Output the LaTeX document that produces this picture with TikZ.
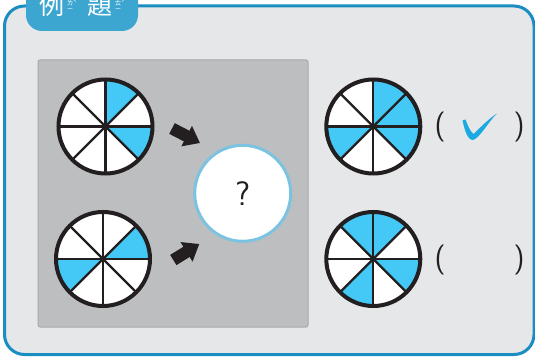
\documentclass[tikz,border=0pt]{standalone}
\usepackage{fontspec}
\newfontfamily\cjk{Noto Sans CJK TC}
\usetikzlibrary{arrows.meta,calc,positioning}
\definecolor{frameblue}{HTML}{1A8DC2}
\definecolor{tabblue}{HTML}{3CA6D1}
\definecolor{framebg}{HTML}{E6E7E8}
\definecolor{panelgray}{HTML}{BCBEC0}
\definecolor{panelline}{HTML}{A7A9AB}
\definecolor{sky}{HTML}{44C8F5}
\definecolor{ringblue}{HTML}{7CC3E2}
\definecolor{tickblue}{HTML}{1BA9E1}
\definecolor{ink}{HTML}{231F20}

\newcommand{\fracwheel}[3]{%
  \node[wheel] (#1) at (#2) {};
  \foreach \k in {#3} \fill[sky] (#1.center) -- ++(\k*45:47) arc[start angle=\k*45,end angle=\k*45+45,radius=47] -- cycle;
  \foreach \a in {0,45,90,135} \draw[spoke] (#1.center) ++(\a:47) -- ++(\a+180:94);
  \draw[rim] (#1.center) circle[radius=47];
}

\begin{document}
\begin{tikzpicture}[x=1pt,y=1pt,
  wheel/.style={circle,fill=white,minimum size=94pt,inner sep=0pt},
  rim/.style={line width=4pt,draw=ink},
  spoke/.style={line width=2.3pt,draw=ink},
  fat/.style={line width=12pt,ink,-{Triangle[width=22pt,length=15pt]}},
  paren/.style={font=\sffamily\fontsize{30}{30}\selectfont,text=ink,inner sep=0pt},
  kanji/.style={font=\cjk\fontsize{25}{25}\selectfont,text=white,inner sep=0pt,anchor=base},
  zhuyin/.style={font=\cjk\fontsize{6.5}{6.5}\selectfont,text=white,inner sep=0pt}]
\useasboundingbox (0,0) rectangle (535,356);
\filldraw[fill=framebg,draw=frameblue,line width=3pt,rounded corners=20pt] (4.5,1.5) rectangle (534,350);
\fill[tabblue,rounded corners=16pt] (26,325) rectangle (138,380);
\node[kanji] (li) at (51.5,341) {例};
\node[zhuyin] (li1) at (70,352.5) {ㄌ}; \node[zhuyin] (li2) at (70,345.5) {ㄧ}; \node[zhuyin] (li3) at (75,353) {ˋ};
\node[kanji] (ti) at (99.5,341) {題};
\node[zhuyin] (ti1) at (118,352.5) {ㄊ}; \node[zhuyin] (ti2) at (118,345.5) {ㄧ}; \node[zhuyin] (ti3) at (123,353) {ˊ};

\filldraw[fill=panelgray,draw=panelline,line width=1pt,rounded corners=2pt] (38,29) rectangle (308,296);
\fracwheel{w1}{105.5,229.5}{1,7}
\fracwheel{w2}{103,97}{0,4}
\node[circle,fill=white,draw=ringblue,line width=3pt,minimum size=96pt,font=\sffamily\fontsize{34}{34}\selectfont,text=ink] (q) at (242.7,162.7) {?};
\coordinate (a1) at (172,227.5); \coordinate (b1) at (200,213);
\coordinate (a2) at (173.3,96); \coordinate (b2) at (199.3,112);
\draw[fat] (a1) -- (b1);
\draw[fat] (a2) -- (b2);

\fracwheel{w3}{373.3,229.5}{0,1,4,7}
\fracwheel{w4}{373.3,97}{1,2,5,7}
\node[paren] (l3) at (440,228.5) {(}; \node[paren] (r3) at (519,228.5) {)};
\node[paren] (l4) at (440,96) {(}; \node[paren] (r4) at (519,96) {)};
\fill[tickblue] (462.5,235.5) .. controls (464.5,227) and (467,216) .. (473,216) .. controls (480,218) and (488,234) .. (497,242.5) .. controls (487,236) and (479,227) .. (473.5,222) .. controls (470.5,224) and (467.5,231) .. (465.5,236.5) -- cycle;
\end{tikzpicture}
\end{document}
